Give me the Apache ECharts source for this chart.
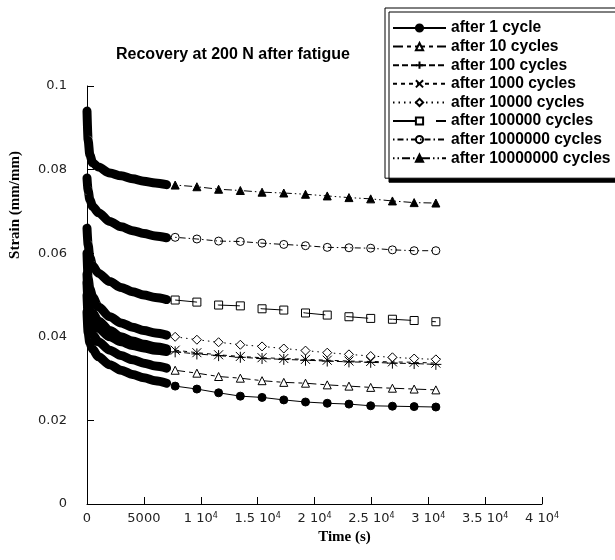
<!DOCTYPE html>
<html>
<head>
<meta charset="utf-8">
<script src="https://cdn.jsdelivr.net/npm/echarts@6/dist/echarts.min.js"></script>
<style>
html, body { margin: 0; padding: 0; background: #fff; }
#chart { width: 615px; height: 560px; }
</style>
</head>
<body>
<div id="chart"></div>
<script>
// noms des courbes (legende)
var names = ['after 1 cycle', 'after 10 cycles', 'after 100 cycles', 'after 1000 cycles',
  'after 10000 cycles', 'after 100000 cycles', 'after 1000000 cycles', 'after 10000000 cycles'];

// temps (s) : partie dense au debut, puis points espaces
var denseTime = [0, 100, 250, 500, 1000, 2000, 3000, 4000, 5000, 6000, 7000];
var markTime = [7750, 9660, 11570, 13480, 15390, 17300, 19210, 21120, 23030, 24940, 26850, 28760, 30670];

// deformation (mm/mm)
var dense1 = [0.046, 0.041, 0.0385, 0.0370, 0.0352, 0.0333, 0.0320, 0.0310, 0.0302, 0.0295, 0.0289];
var dense10 = [0.050, 0.045, 0.0425, 0.0405, 0.0388, 0.0368, 0.0355, 0.0345, 0.0337, 0.0330, 0.0325];
var dense100 = [0.053, 0.048, 0.0455, 0.0437, 0.0420, 0.0400, 0.0388, 0.0379, 0.0373, 0.0368, 0.0365];
var dense1e3 = [0.055, 0.050, 0.0475, 0.0457, 0.0438, 0.0415, 0.0400, 0.0390, 0.0382, 0.0376, 0.0371];
var dense1e4 = [0.060, 0.054, 0.0515, 0.0495, 0.0472, 0.0448, 0.0433, 0.0423, 0.0415, 0.0409, 0.0404];
var dense1e5 = [0.066, 0.062, 0.059, 0.0570, 0.0552, 0.0532, 0.0518, 0.0508, 0.0500, 0.0494, 0.0489];
var dense1e6 = [0.078, 0.0750, 0.0728, 0.0712, 0.0697, 0.0676, 0.0663, 0.0654, 0.0647, 0.0641, 0.0637];
var dense1e7 = [0.094, 0.0870, 0.0835, 0.0816, 0.0806, 0.0792, 0.0785, 0.0778, 0.0772, 0.0768, 0.0764];

var mark1 = [0.0282, 0.0275, 0.0266, 0.0258, 0.0255, 0.0249, 0.0244, 0.0241, 0.0239, 0.0235, 0.0234, 0.0233, 0.0232];
var mark10 = [0.0320, 0.0313, 0.0305, 0.0301, 0.0295, 0.0291, 0.0289, 0.0285, 0.0282, 0.0279, 0.0277, 0.0275, 0.0273];
var mark100 = [0.0364, 0.0359, 0.0355, 0.0351, 0.0348, 0.0346, 0.0344, 0.0342, 0.0340, 0.0339, 0.0337, 0.0336, 0.0334];
var mark1e3 = [0.0368, 0.0362, 0.0357, 0.0353, 0.0350, 0.0348, 0.0346, 0.0344, 0.0342, 0.0341, 0.0340, 0.0339, 0.0337];
var mark1e4 = [0.0400, 0.0393, 0.0387, 0.0381, 0.0377, 0.0372, 0.0367, 0.0362, 0.0358, 0.0354, 0.0351, 0.0348, 0.0346];
var mark1e5 = [0.0488, 0.0483, 0.0476, 0.0474, 0.0467, 0.0464, 0.0457, 0.0452, 0.0448, 0.0444, 0.0442, 0.0439, 0.0436];
var mark1e6 = [0.0638, 0.0634, 0.0629, 0.0628, 0.0624, 0.0621, 0.0618, 0.0614, 0.0613, 0.0612, 0.0608, 0.0606, 0.0606];
var mark1e7 = [0.0763, 0.0759, 0.0753, 0.0750, 0.0746, 0.0744, 0.0741, 0.0737, 0.0733, 0.0730, 0.0725, 0.0721, 0.0720];

// etiquettes de l'axe x ("1 10" + exposant)
var xTickText = ['0', '5000', '1 10', '1.5 10', '2 10', '2.5 10', '3 10', '3.5 10', '4 10'];
var xTickPow = ['', '', '4', '4', '4', '4', '4', '4', '4'];

var denseList = [dense1, dense10, dense100, dense1e3, dense1e4, dense1e5, dense1e6, dense1e7];
var markList = [mark1, mark10, mark100, mark1e3, mark1e4, mark1e5, mark1e6, mark1e7];

// styles des marqueurs / traits
var styles = [
  { symbol: 'circle', size: 8, fill: '#000', dash: 'solid' },
  { symbol: 'triangle', size: 8, fill: '#fff', dash: [10, 4, 4, 4] },
  { symbol: 'path://M5,0L5,10M0,5L10,5', size: 11, fill: 'none', dash: [6, 3] },
  { symbol: 'path://M0,0L10,10M0,10L10,0', size: 9, fill: 'none', dash: [4, 4] },
  { symbol: 'diamond', size: 9, fill: '#fff', dash: [1.5, 4] },
  { symbol: 'rect', size: 8, fill: 'none', dash: [22, 21] },
  { symbol: 'circle', size: 8, fill: 'none', dash: [1.5, 3, 6, 3] },
  { symbol: 'triangle', size: 8, fill: '#000', dash: [1.5, 3, 1.5, 3, 8, 3] }
];

function zip(xs, ys) {
  return xs.map(function (x, i) { return [x, ys[i]]; });
}

var series = [];
// bandes epaisses (points tres serres au debut)
denseList.forEach(function (d, i) {
  series.push({
    type: 'line',
    data: zip(denseTime, d),
    showSymbol: false,
    silent: true,
    smooth: 0.3,
    smoothMonotone: 'x',
    z: 1,
    lineStyle: { color: '#000', width: 9, cap: 'round', join: 'round' }
  });
});
// points espaces avec marqueurs
markList.forEach(function (m, i) {
  var st = styles[i];
  series.push({
    name: names[i],
    type: 'line',
    data: zip(markTime, m),
    symbol: st.symbol,
    symbolSize: st.size,
    showAllSymbol: true,
    z: 3,
    itemStyle: { color: st.fill, borderColor: '#000', borderWidth: 1 },
    lineStyle: { color: '#000', width: 1, type: st.dash }
  });
});

var option = {
  animation: false,
  backgroundColor: '#fff',
  title: {
    text: 'Recovery at 200 N after fatigue',
    left: 111,
    top: 42,
    textStyle: { fontFamily: 'Liberation Sans', fontWeight: 'bold', fontSize: 16, color: '#000' }
  },
  legend: {
    data: names,
    orient: 'vertical',
    left: 385,
    top: 8,
    padding: [12, 12, 12, 7],
    itemWidth: 53,
    itemHeight: 9,
    itemGap: 2.6,
    backgroundColor: '#fff',
    borderColor: '#000',
    borderWidth: 1,
    shadowColor: '#000',
    shadowBlur: 0,
    shadowOffsetX: 4,
    shadowOffsetY: 4,
    textStyle: { fontFamily: 'Liberation Sans', fontWeight: 'bold', fontSize: 15.6, color: '#000' }
  },
  grid: { left: 87, right: 73, top: 86, bottom: 56 },
  xAxis: {
    type: 'value',
    min: 0,
    max: 40000,
    interval: 5000,
    axisLine: { lineStyle: { color: '#000', width: 1 } },
    axisTick: { inside: true, length: 7, lineStyle: { color: '#000' } },
    splitLine: { show: false },
    axisLabel: {
      margin: 8,
      formatter: function (v, idx) {
        var k = Math.round(v / 5000);
        return xTickPow[k] ? '{n|' + xTickText[k] + '}{s|' + xTickPow[k] + '}' : '{n|' + xTickText[k] + '}';
      },
      rich: {
        n: { fontFamily: 'DejaVu Sans', fontSize: 13, color: '#222' },
        s: { fontFamily: 'DejaVu Sans', fontSize: 8, color: '#222', verticalAlign: 'top' }
      }
    },
    name: 'Time (s)',
    nameLocation: 'middle',
    nameGap: 22,
    nameTextStyle: { fontFamily: 'Liberation Serif', fontWeight: 'bold', fontSize: 15, color: '#000', padding: [0, 0, 0, 60] }
  },
  yAxis: {
    type: 'value',
    min: 0,
    max: 0.1,
    interval: 0.02,
    axisLine: { show: true, lineStyle: { color: '#000', width: 1 } },
    axisTick: { show: true, inside: true, length: 7, lineStyle: { color: '#000' } },
    splitLine: { show: false },
    axisLabel: { margin: 20, fontFamily: 'DejaVu Sans', fontSize: 13, color: '#222' },
    name: 'Strain (mm/mm)',
    nameLocation: 'middle',
    nameGap: 64,
    nameRotate: 90,
    nameTextStyle: { fontFamily: 'Liberation Serif', fontWeight: 'bold', fontSize: 15, color: '#000', padding: [0, 0, 0, 180] }
  },
  series: series
};

var chart = echarts.init(document.getElementById('chart'));
chart.setOption(option);
</script>
</body>
</html>
